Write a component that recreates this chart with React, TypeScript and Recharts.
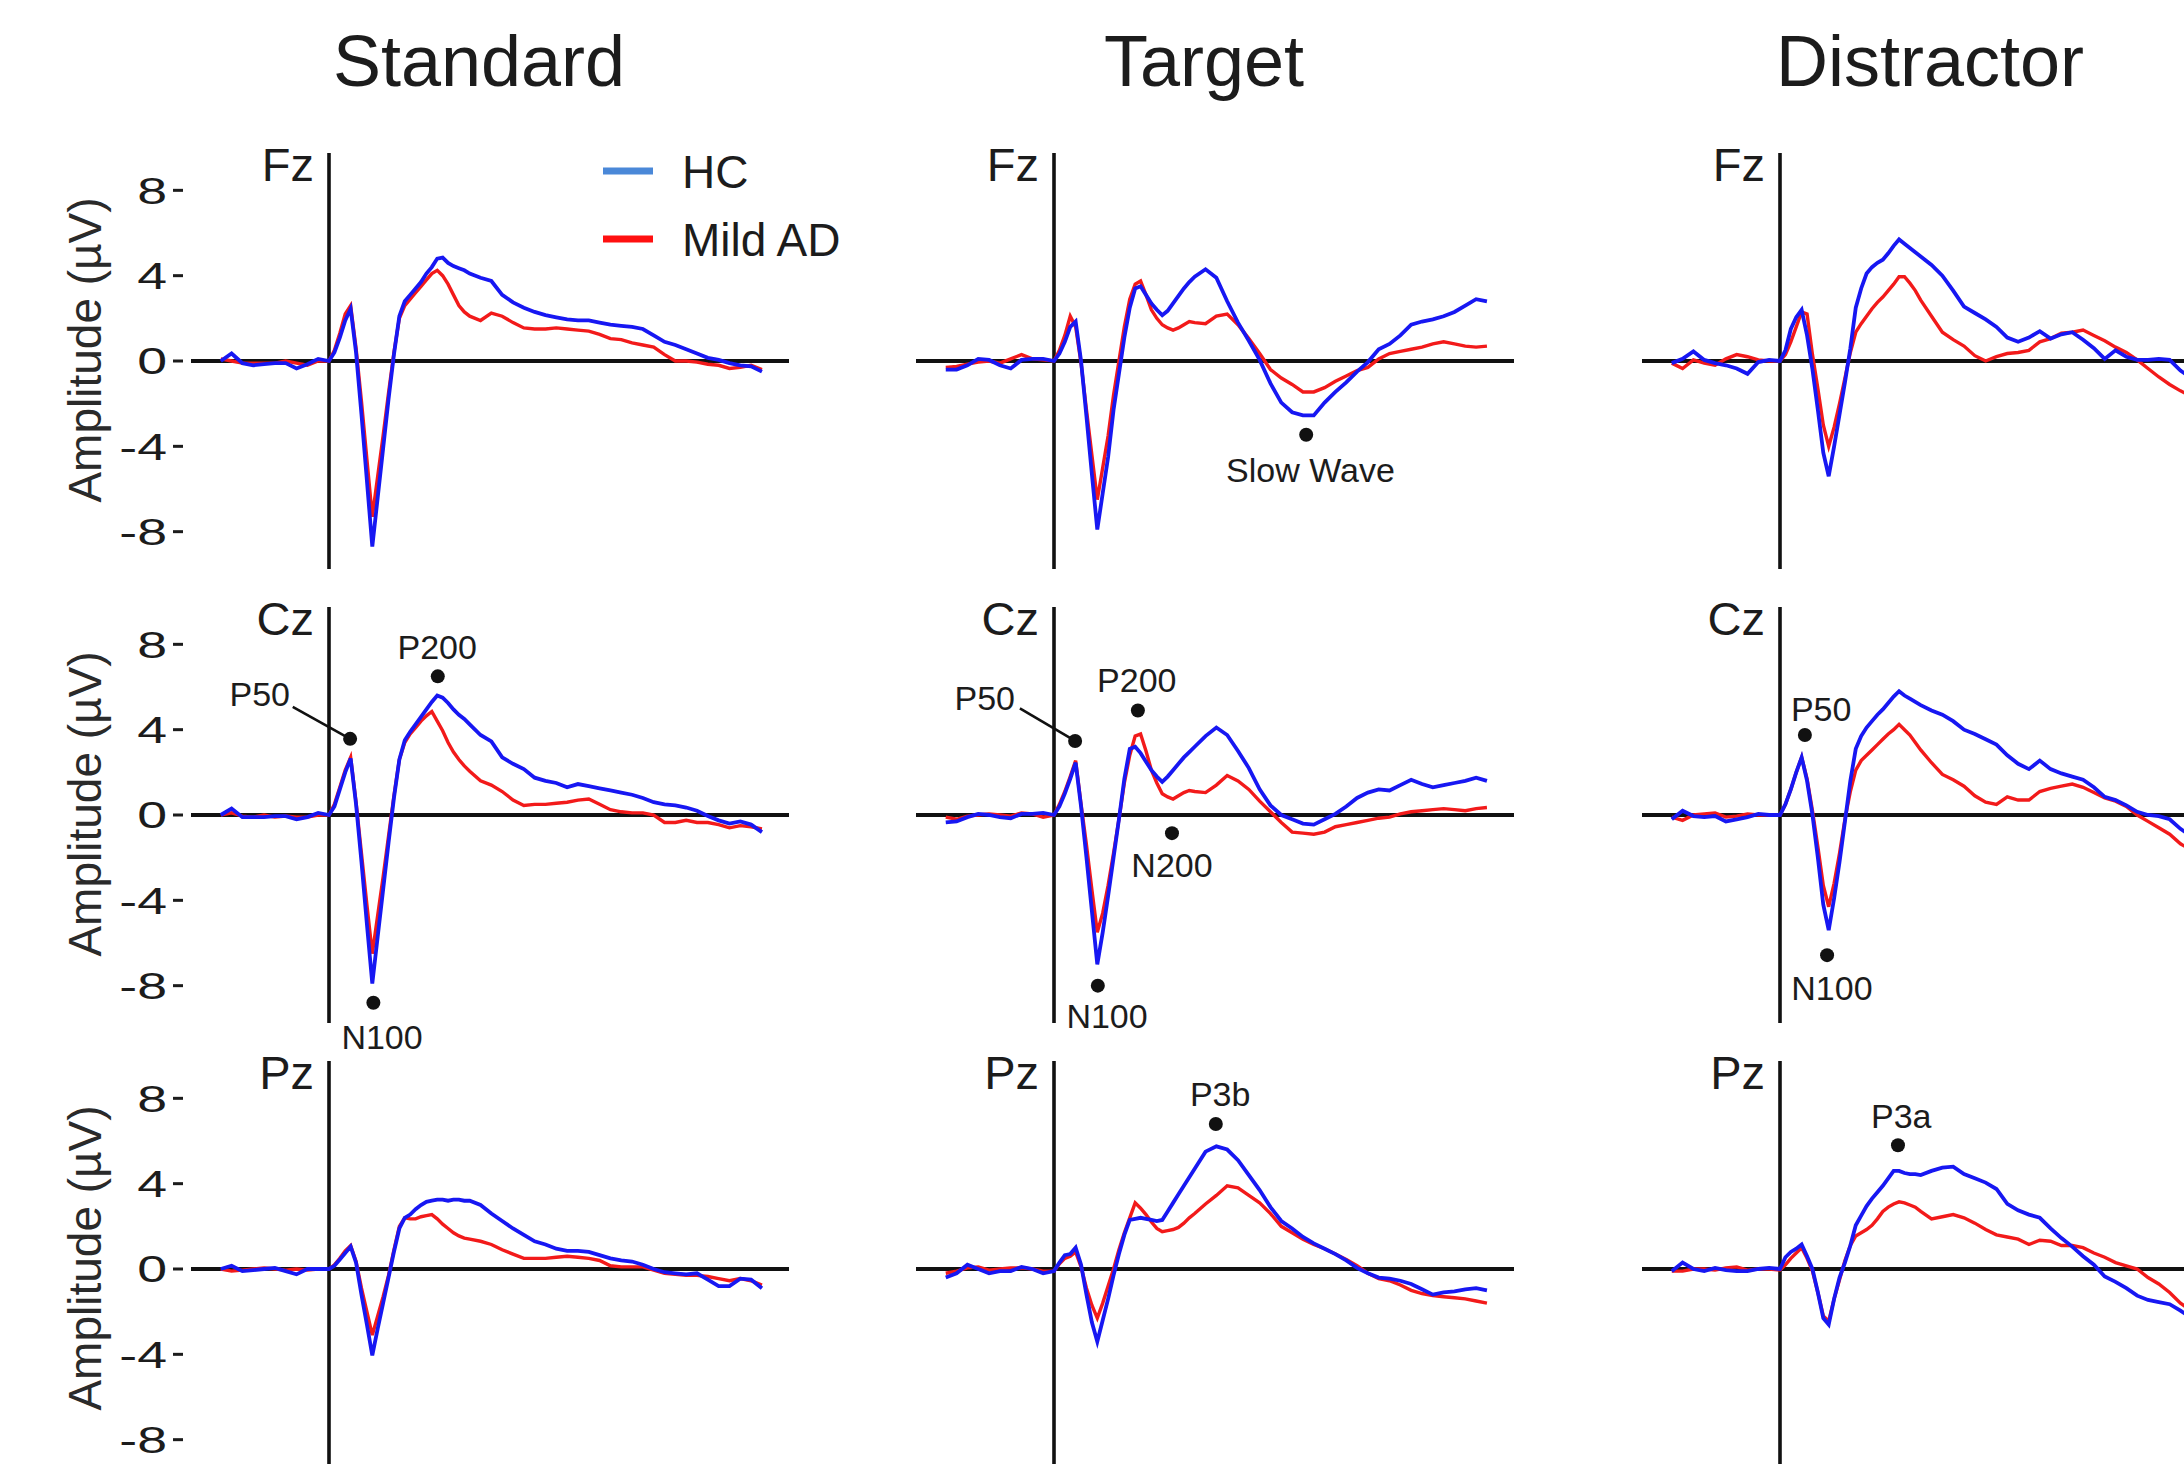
import React from 'react'
import { LineChart, Line, XAxis, YAxis, ReferenceLine, ReferenceDot } from 'recharts'

// time grid (ms) shared by every trace
const times = [
  -200, -180, -160, -140, -120, -100, -80, -60, -40, -20, 0,
  10, 20, 30, 40, 50, 60, 70, 80, 90, 100, 110, 120, 130, 140, 150, 160, 170, 180, 190, 200, 210, 220, 230, 240, 250,
  260, 280, 300, 320, 340, 360, 380, 400, 420, 440, 460, 480, 500, 520, 540, 560, 580, 600, 620, 640, 660, 680, 700, 720, 740, 760, 780, 800,
]

const conditions = ['Standard', 'Target', 'Distractor']
const electrodes = ['Fz', 'Cz', 'Pz']
const ampTicks = [-8, -4, 0, 4, 8]

// amplitudes in µV, HC = healthy controls, AD = mild AD
const standardFzHC = [
  0, 0.35, -0.1, -0.2, -0.15, -0.1, -0.1, -0.35, -0.15, 0.1, 0,
  0.4, 1.1, 1.9, 2.45, 0.4, -2.5, -5.6, -8.7, -6.4, -4.1, -1.8, 0.3, 2.1, 2.8, 3.1, 3.4, 3.7, 4.1, 4.4, 4.8, 4.85, 4.6, 4.45, 4.35, 4.25,
  4.1, 3.9, 3.75, 3.1, 2.75, 2.5, 2.3, 2.15, 2.05, 1.95, 1.9, 1.9, 1.8, 1.7, 1.65, 1.6, 1.5, 1.2, 0.9, 0.75, 0.55, 0.35, 0.15, 0.05, -0.1, -0.2, -0.25, -0.5,
]
const standardFzAD = [
  0.1, 0, -0.1, -0.1, -0.1, -0.1, 0, -0.1, -0.2, 0, 0,
  0.5, 1.3, 2.2, 2.6, 0.6, -1.9, -4.6, -7.3, -5.4, -3.5, -1.5, 0.4, 2.0, 2.6, 2.9, 3.2, 3.5, 3.8, 4.1, 4.25, 4.0, 3.6, 3.1, 2.6, 2.3,
  2.1, 1.9, 2.25, 2.1, 1.8, 1.55, 1.5, 1.5, 1.55, 1.5, 1.45, 1.4, 1.25, 1.05, 1.0, 0.85, 0.75, 0.65, 0.3, 0.0, 0.0, -0.05, -0.15, -0.2, -0.35, -0.3, -0.2, -0.4,
]
const standardCzHC = [
  0, 0.3, -0.1, -0.1, -0.1, -0.05, -0.05, -0.2, -0.1, 0.1, 0,
  0.4, 1.2, 2.0, 2.65, 0.5, -2.2, -5.1, -7.9, -5.7, -3.5, -1.3, 0.8, 2.6, 3.5, 3.9, 4.25, 4.6, 4.95, 5.3, 5.6, 5.5, 5.25, 4.95, 4.7, 4.5,
  4.25, 3.75, 3.45, 2.7, 2.4, 2.15, 1.75, 1.6, 1.5, 1.3, 1.45, 1.35, 1.25, 1.15, 1.05, 0.95, 0.8, 0.6, 0.5, 0.45, 0.35, 0.2, -0.05, -0.25, -0.4, -0.3, -0.45, -0.8,
]
const standardCzAD = [
  0, 0.1, -0.05, -0.1, 0, -0.1, -0.05, -0.1, -0.1, 0, 0,
  0.5, 1.3, 2.1, 2.7, 0.6, -1.8, -4.2, -6.5, -4.7, -2.9, -1.0, 0.9, 2.6, 3.4, 3.8, 4.1, 4.4, 4.65, 4.85, 4.4, 3.95, 3.4, 2.95, 2.6, 2.3,
  2.05, 1.6, 1.4, 1.1, 0.7, 0.45, 0.5, 0.5, 0.55, 0.6, 0.7, 0.75, 0.5, 0.25, 0.15, 0.1, 0.1, 0.0, -0.35, -0.35, -0.25, -0.35, -0.35, -0.45, -0.6, -0.5, -0.55, -0.65,
]
const standardPzHC = [
  0, 0.15, -0.1, -0.05, 0, 0.05, -0.1, -0.25, 0, 0, 0,
  0.15, 0.45, 0.75, 1.05, 0.3, -1.2, -2.6, -4.05, -2.8, -1.6, -0.4, 0.8, 1.9, 2.4, 2.55, 2.8, 3.0, 3.15, 3.2, 3.25, 3.25, 3.2, 3.25, 3.25, 3.2,
  3.2, 3.0, 2.6, 2.25, 1.9, 1.6, 1.3, 1.15, 0.95, 0.85, 0.85, 0.8, 0.65, 0.5, 0.4, 0.35, 0.2, 0.0, -0.15, -0.2, -0.25, -0.2, -0.5, -0.8, -0.8, -0.45, -0.5, -0.9,
]
const standardPzAD = [
  0, -0.1, -0.05, 0, 0.05, 0, -0.05, 0, -0.05, 0, 0,
  0.2, 0.5, 0.85, 1.1, 0.35, -0.9, -2.0, -3.1, -2.2, -1.3, -0.3, 0.9, 2.0, 2.4, 2.35, 2.35, 2.45, 2.5, 2.55, 2.35, 2.1, 1.9, 1.7, 1.55, 1.45,
  1.4, 1.3, 1.15, 0.9, 0.7, 0.5, 0.5, 0.5, 0.55, 0.6, 0.55, 0.5, 0.4, 0.15, 0.1, 0.1, 0.1, -0.05, -0.2, -0.25, -0.3, -0.3, -0.35, -0.45, -0.55, -0.45, -0.55, -0.75,
]
const targetFzHC = [
  -0.4, -0.4, -0.2, 0.1, 0.05, -0.2, -0.35, 0.05, 0.1, 0.1, 0,
  0.35, 0.9, 1.6, 1.85, 0.0, -2.6, -5.3, -7.9, -6.2, -4.5, -2.3, -0.6, 1.1, 2.5, 3.4, 3.5, 3.1, 2.7, 2.4, 2.15, 2.35, 2.7, 3.05, 3.4, 3.7,
  3.95, 4.3, 3.9, 2.8, 1.8, 0.95, 0.05, -1.05, -1.95, -2.4, -2.55, -2.55, -1.95, -1.45, -1.0, -0.5, -0.05, 0.55, 0.8, 1.2, 1.7, 1.85, 1.95, 2.1, 2.3, 2.6, 2.9, 2.8,
]
const targetFzAD = [
  -0.3, -0.25, -0.15, -0.05, 0, -0.1, 0.1, 0.3, 0.1, 0.05, 0,
  0.5, 1.2, 2.1, 1.6, -0.1, -2.3, -4.4, -6.5, -5.0, -3.5, -1.6, 0.0, 1.6, 2.9, 3.6, 3.75, 3.1, 2.4, 2.0, 1.7, 1.55, 1.45, 1.55, 1.7, 1.85,
  1.8, 1.75, 2.1, 2.2, 1.7, 1.05, 0.35, -0.4, -0.8, -1.1, -1.45, -1.45, -1.25, -0.95, -0.7, -0.45, -0.3, 0.1, 0.35, 0.45, 0.55, 0.65, 0.8, 0.9, 0.8, 0.7, 0.65, 0.7,
]
const targetCzHC = [
  -0.35, -0.3, -0.1, 0.05, 0, -0.1, -0.15, 0.05, 0.05, 0.1, 0,
  0.4, 1.0, 1.7, 2.45, 0.4, -2.0, -4.5, -7.0, -5.5, -3.8, -2.0, -0.2, 1.7, 3.1, 3.2, 2.9, 2.5, 2.1, 1.8, 1.55, 1.8, 2.1, 2.4, 2.7, 2.95,
  3.2, 3.7, 4.1, 3.75, 3.0, 2.2, 1.2, 0.45, 0.0, -0.2, -0.4, -0.45, -0.2, 0.05, 0.4, 0.8, 1.05, 1.2, 1.15, 1.4, 1.65, 1.45, 1.3, 1.4, 1.5, 1.6, 1.75, 1.6,
]
const targetCzAD = [
  -0.1, -0.2, -0.05, 0, 0.05, 0, -0.05, 0.1, 0.05, -0.1, 0,
  0.5, 1.1, 1.8, 2.55, 0.5, -1.4, -3.5, -5.5, -4.6, -3.3, -1.8, -0.2, 1.5, 2.8, 3.7, 3.8, 3.0, 2.1, 1.5, 1.0, 0.85, 0.75, 0.9, 1.05, 1.15,
  1.1, 1.05, 1.4, 1.85, 1.6, 1.2, 0.65, 0.15, -0.35, -0.8, -0.85, -0.9, -0.8, -0.55, -0.45, -0.35, -0.25, -0.15, -0.1, 0.05, 0.15, 0.2, 0.25, 0.3, 0.25, 0.2, 0.3, 0.35,
]
const targetPzHC = [
  -0.4, -0.2, 0.2, 0.0, -0.2, -0.1, -0.1, 0.1, 0.0, -0.2, -0.1,
  0.3, 0.65, 0.7, 1.0, 0.2, -1.2, -2.5, -3.4, -2.4, -1.4, -0.3, 0.7, 1.6, 2.3, 2.35, 2.4, 2.35, 2.3, 2.25, 2.3, 2.7, 3.1, 3.5, 3.9, 4.3,
  4.7, 5.5, 5.75, 5.6, 5.1, 4.4, 3.7, 2.9, 2.25, 1.9, 1.5, 1.2, 0.95, 0.7, 0.4, 0.05, -0.2, -0.4, -0.45, -0.55, -0.7, -0.95, -1.2, -1.1, -1.05, -0.95, -0.9, -1.0,
]
const targetPzAD = [
  -0.2, -0.1, 0.05, 0.1, -0.05, 0, 0.05, 0.05, 0, -0.1, -0.1,
  0.25, 0.5, 0.6, 0.8, 0.1, -0.9, -1.7, -2.3, -1.6, -0.8, 0.0, 0.9, 1.7, 2.4, 3.1, 2.85, 2.55, 2.2, 1.9, 1.75, 1.8, 1.85, 1.95, 2.15, 2.4,
  2.6, 3.05, 3.45, 3.9, 3.8, 3.45, 3.1, 2.6, 2.0, 1.7, 1.4, 1.15, 0.95, 0.7, 0.45, 0.15, -0.2, -0.45, -0.55, -0.75, -1.0, -1.15, -1.25, -1.3, -1.35, -1.4, -1.5, -1.6,
]
const distractorFzHC = [
  -0.1, 0.1, 0.45, 0.05, -0.1, -0.2, -0.35, -0.6, -0.05, 0.05, 0,
  0.5, 1.5, 2.05, 2.4, 1.2, -0.4, -2.3, -4.3, -5.4, -4.0, -2.5, -1.0, 0.6, 2.5, 3.4, 4.1, 4.4, 4.6, 4.75, 5.05, 5.4, 5.7, 5.5, 5.3, 5.1,
  4.9, 4.5, 4.0, 3.3, 2.55, 2.25, 1.95, 1.6, 1.1, 0.9, 1.1, 1.4, 1.05, 1.25, 1.35, 1.0, 0.6, 0.1, 0.5, 0.2, 0.05, 0.05, 0.1, 0.05, -0.45, -0.8, -1.0, -1.2,
]
const distractorFzAD = [
  -0.1, -0.35, 0.05, -0.1, -0.2, 0.1, 0.3, 0.2, 0.05, 0, 0,
  0.3, 0.9, 1.6, 2.3, 2.2, 0.3, -1.3, -3.0, -4.0, -3.1, -2.0, -0.8, 0.4, 1.35, 1.75, 2.1, 2.45, 2.75, 3.0, 3.3, 3.6, 3.95, 3.95, 3.65, 3.3,
  2.85, 2.1, 1.35, 1.0, 0.7, 0.25, 0.0, 0.2, 0.35, 0.4, 0.5, 0.9, 1.05, 1.3, 1.35, 1.45, 1.2, 0.95, 0.65, 0.4, 0.05, -0.35, -0.75, -1.1, -1.4, -1.65, -1.9, -2.1,
]
const distractorCzHC = [
  -0.2, 0.2, -0.05, -0.1, -0.05, -0.3, -0.2, -0.1, 0.05, 0, 0,
  0.5, 1.2, 2.0, 2.7, 1.6, 0.0, -2.0, -4.2, -5.4, -3.9, -2.2, -0.3, 1.6, 3.1, 3.7, 4.1, 4.4, 4.7, 4.95, 5.25, 5.55, 5.8, 5.6, 5.45, 5.3,
  5.15, 4.9, 4.7, 4.4, 4.0, 3.8, 3.55, 3.3, 2.8, 2.4, 2.15, 2.55, 2.15, 1.95, 1.8, 1.65, 1.3, 0.85, 0.7, 0.45, 0.15, 0.0, -0.05, -0.2, -0.65, -1.0, -1.3, -1.6,
]
const distractorCzAD = [
  -0.1, -0.25, 0, 0.05, 0.1, -0.1, -0.05, 0.05, 0, 0, 0,
  0.5, 1.2, 2.0, 2.7, 1.7, 0.2, -1.5, -3.3, -4.3, -3.2, -1.8, -0.2, 1.1, 2.1, 2.55, 2.8, 3.05, 3.3, 3.55, 3.8, 4.0, 4.25, 4.0, 3.75, 3.4,
  3.05, 2.45, 1.9, 1.65, 1.35, 0.9, 0.6, 0.5, 0.85, 0.7, 0.7, 1.1, 1.25, 1.35, 1.45, 1.3, 1.05, 0.8, 0.65, 0.4, 0.0, -0.3, -0.6, -0.9, -1.35, -1.65, -1.95, -2.2,
]
const distractorPzHC = [
  -0.1, 0.3, 0, -0.1, 0.05, -0.05, -0.1, -0.1, 0, 0.05, 0,
  0.55, 0.8, 0.95, 1.15, 0.6, 0.0, -1.1, -2.3, -2.6, -1.4, -0.4, 0.3, 1.1, 2.05, 2.5, 2.95, 3.3, 3.6, 3.9, 4.25, 4.6, 4.6, 4.5, 4.45, 4.45,
  4.4, 4.6, 4.75, 4.8, 4.45, 4.25, 4.05, 3.75, 3.05, 2.75, 2.55, 2.4, 1.9, 1.45, 1.05, 0.6, 0.2, -0.35, -0.6, -0.9, -1.25, -1.45, -1.55, -1.65, -1.95, -2.3, -2.6, -2.9,
]
const distractorPzAD = [
  -0.1, -0.1, 0, 0, -0.05, 0.05, 0.1, -0.05, 0, 0, -0.05,
  0.2, 0.5, 0.75, 1.0, 0.5, -0.1, -1.1, -2.2, -2.45, -1.4, -0.5, 0.4, 1.1, 1.55, 1.7, 1.85, 2.05, 2.35, 2.7, 2.9, 3.05, 3.15, 3.1, 3.0, 2.9,
  2.7, 2.35, 2.45, 2.55, 2.4, 2.15, 1.85, 1.6, 1.5, 1.4, 1.15, 1.35, 1.3, 1.1, 1.1, 1.0, 0.75, 0.55, 0.3, 0.15, 0.0, -0.4, -0.7, -1.1, -1.6, -1.95, -2.3, -2.6,
]

// component markers: [ms, µV] of the dot, then [ms, µV] of the label centre
const standardCzMarks = [
  { name: 'P50', dot: [39, 3.57], label: [-128, 5.7], leader: [-67, 5.07] },
  { name: 'P200', dot: [201, 6.5], label: [200, 7.9] },
  { name: 'N100', dot: [82, -8.8], label: [98, -10.4] },
]
const targetFzMarks = [{ name: 'Slow Wave', dot: [466, -3.46], label: [474, -5.1] }]
const targetCzMarks = [
  { name: 'P50', dot: [39, 3.47], label: [-128, 5.5], leader: [-63, 5.0] },
  { name: 'P200', dot: [155, 4.9], label: [153, 6.35] },
  { name: 'N200', dot: [218, -0.85], label: [218, -2.35] },
  { name: 'N100', dot: [81, -8.0], label: [98, -9.4] },
]
const targetPzMarks = [{ name: 'P3b', dot: [299, 6.8], label: [307, 8.2] }]
const distractorCzMarks = [
  { name: 'P50', dot: [46, 3.75], label: [76, 5.0] },
  { name: 'N100', dot: [87, -6.57], label: [96, -8.1] },
]
const distractorPzMarks = [{ name: 'P3a', dot: [218, 5.8], label: [224, 7.2] }]

const panels = [
  [
    { hc: standardFzHC, ad: standardFzAD, marks: [] },
    { hc: targetFzHC, ad: targetFzAD, marks: targetFzMarks },
    { hc: distractorFzHC, ad: distractorFzAD, marks: [] },
  ],
  [
    { hc: standardCzHC, ad: standardCzAD, marks: standardCzMarks },
    { hc: targetCzHC, ad: targetCzAD, marks: targetCzMarks },
    { hc: distractorCzHC, ad: distractorCzAD, marks: distractorCzMarks },
  ],
  [
    { hc: standardPzHC, ad: standardPzAD, marks: [] },
    { hc: targetPzHC, ad: targetPzAD, marks: targetPzMarks },
    { hc: distractorPzHC, ad: distractorPzAD, marks: distractorPzMarks },
  ],
]

const FONT = '"Liberation Sans", Arial, Helvetica, sans-serif'
const BLUE = '#1717f2'
const RED = '#f21a1a'
const INK = '#1c1c1c'

const X_DOMAIN: [number, number] = [-255, 850]
const Y_DOMAIN: [number, number] = [-9.75, 9.75]
const PLOT_W = 598
const PLOT_H = 416
const MARGIN = { top: 60, right: 20, bottom: 60, left: 20 }
const TICK_W = 90
const colAxisX = [329, 1054, 1780]
const rowZeroY = [361, 815, 1269]
const preZero = Math.round((-X_DOMAIN[0] * PLOT_W) / (X_DOMAIN[1] - X_DOMAIN[0]))

const AmpTick = (props: any) => {
  const { x, y, payload } = props
  return (
    <g>
      <text
        transform={`translate(${x - 24},${y}) scale(1.45,1)`}
        textAnchor="end"
        dy="0.36em"
        fontSize={37}
        fill={INK}
        fontFamily={FONT}
      >
        {payload.value}
      </text>
      <line x1={x - 18} x2={x - 8} y1={y} y2={y} stroke={INK} strokeWidth={3} />
    </g>
  )
}

const noteText = (text: string) => (props: any) => (
  <text x={props.cx} y={props.cy} dy="0.36em" textAnchor="middle" fontSize={34} fill={INK} fontFamily={FONT}>
    {text}
  </text>
)

function Panel({ row, col }: { row: number; col: number }) {
  const p = panels[row][col]
  const data = times.map((t, i) => ({ t, hc: p.hc[i], ad: p.ad[i] }))
  const showTicks = col === 0
  const yw = showTicks ? TICK_W : 0
  const width = MARGIN.left + yw + PLOT_W + MARGIN.right
  const height = MARGIN.top + PLOT_H + MARGIN.bottom
  const left = colAxisX[col] - preZero - yw - MARGIN.left
  const top = rowZeroY[row] - PLOT_H / 2 - MARGIN.top
  return (
    <div style={{ position: 'absolute', left, top, width, height }}>
      <LineChart width={width} height={height} data={data} margin={MARGIN}>
        <XAxis type="number" dataKey="t" domain={X_DOMAIN} hide />
        <YAxis
          type="number"
          domain={Y_DOMAIN}
          allowDataOverflow
          ticks={ampTicks}
          hide={!showTicks}
          width={TICK_W}
          axisLine={false}
          tickLine={false}
          tickSize={0}
          tickMargin={0}
          tick={<AmpTick />}
        />
        <ReferenceLine y={0} stroke="#111" strokeWidth={4.2} />
        <ReferenceLine x={0} stroke="#111" strokeWidth={3.6} />
        <Line type="linear" dataKey="ad" stroke={RED} strokeWidth={3.4} dot={false} isAnimationActive={false} />
        <Line type="linear" dataKey="hc" stroke={BLUE} strokeWidth={3.8} dot={false} isAnimationActive={false} />
        {p.marks.map((m: any) =>
          m.leader ? (
            <ReferenceLine
              key={m.name + 'l'}
              segment={[
                { x: m.leader[0], y: m.leader[1] },
                { x: m.dot[0], y: m.dot[1] },
              ]}
              stroke="#111"
              strokeWidth={2.6}
              ifOverflow="visible"
            />
          ) : null
        )}
        {p.marks.map((m: any) => (
          <ReferenceDot key={m.name + 'd'} x={m.dot[0]} y={m.dot[1]} r={7} fill="#111" stroke="none" ifOverflow="visible" />
        ))}
        {p.marks.map((m: any) => (
          <ReferenceDot
            key={m.name + 't'}
            x={m.label[0]}
            y={m.label[1]}
            r={1}
            ifOverflow="visible"
            shape={noteText(m.name)}
          />
        ))}
      </LineChart>
    </div>
  )
}

export default function App() {
  return (
    <div style={{ position: 'absolute', left: 0, top: 0, width: 2184, height: 1464, overflow: 'hidden', background: '#fff' }}>
      {electrodes.map((_, r) => conditions.map((__, c) => <Panel key={`${r}-${c}`} row={r} col={c} />))}
      <svg width={2184} height={1464} style={{ position: 'absolute', left: 0, top: 0, pointerEvents: 'none' }}>
        {conditions.map((name, c) => (
          <text key={name} x={colAxisX[c] + 150} y={86} textAnchor="middle" fontSize={72} fill={INK} fontFamily={FONT}>
            {name}
          </text>
        ))}
        {electrodes.map((el, r) =>
          colAxisX.map((ax) => (
            <text key={el + ax} x={ax - 15} y={rowZeroY[r] - 180} textAnchor="end" fontSize={47} fill={INK} fontFamily={FONT}>
              {el}
            </text>
          ))
        )}
        {rowZeroY.map((zy) => (
          <text
            key={'amp' + zy}
            transform={`translate(84,${zy - 11}) rotate(-90)`}
            textAnchor="middle"
            dy="0.36em"
            fontSize={46}
            fill="#2a2a2a"
            fontFamily={FONT}
          >
            Amplitude (µV)
          </text>
        ))}
        <line x1={603} x2={653} y1={171} y2={171} stroke="#4a88d8" strokeWidth={7} />
        <line x1={603} x2={653} y1={239} y2={239} stroke="#ff1010" strokeWidth={7} />
        <text x={682} y={171} dy="0.36em" fontSize={46} fill={INK} fontFamily={FONT}>
          HC
        </text>
        <text x={682} y={239} dy="0.36em" fontSize={46} fill={INK} fontFamily={FONT}>
          Mild AD
        </text>
      </svg>
    </div>
  )
}
